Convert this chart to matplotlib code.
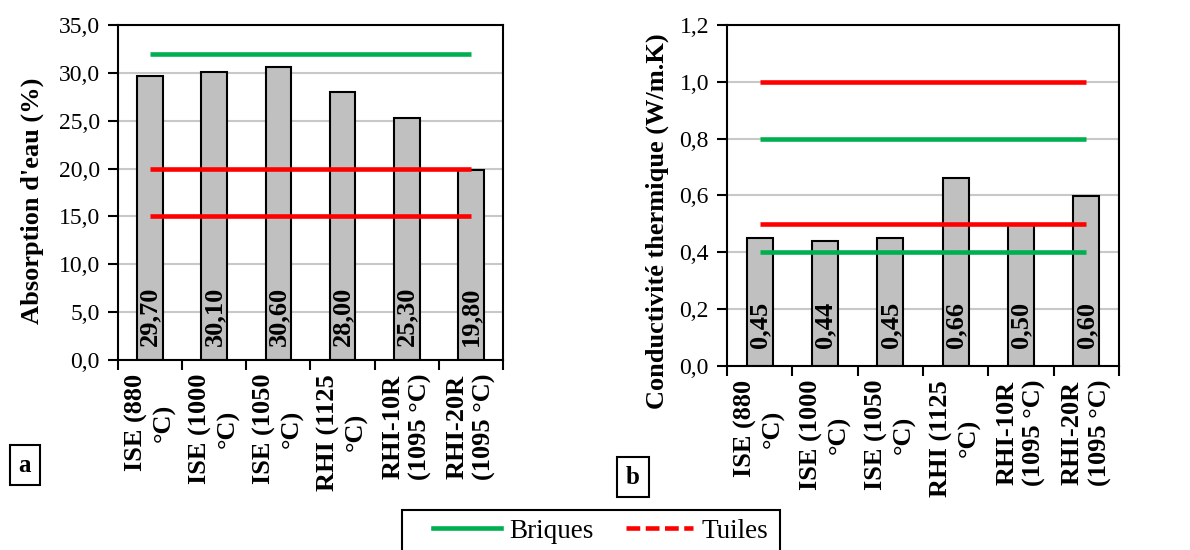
import numpy as np
import matplotlib
matplotlib.use("Agg")
import matplotlib.pyplot as plt
from matplotlib.ticker import FuncFormatter, MultipleLocator
from matplotlib.lines import Line2D
from matplotlib.patches import Rectangle

plt.rcParams['font.family'] = ['Liberation Serif', 'DejaVu Serif']

categories = ["ISE (880\n°C)", "ISE (1000\n°C)", "ISE (1050\n°C)",
              "RHI (1125\n°C)", "RHI-10R\n(1095 °C)", "RHI-20R\n(1095 °C)"]
absorption = [29.70, 30.10, 30.60, 28.00, 25.30, 19.80]
conductivite = [0.45, 0.44, 0.45, 0.66, 0.50, 0.60]

# reference limits (briques / tuiles)
abs_briques = [32.0]
abs_tuiles = [20.0, 15.0]
cond_briques = [0.8, 0.4]
cond_tuiles = [1.0, 0.5]

green = "#00B050"
red = "#FF0000"
grey = "#C0C0C0"

fig = plt.figure(figsize=(11.9, 5.5), dpi=100)
ax1 = fig.add_axes([118/1190, 1-360/550, 385/1190, 335/550])
ax2 = fig.add_axes([727/1190, 1-366/550, 392/1190, 341/550])


def comma(ndec):
    return FuncFormatter(lambda v, p: f"{v:.{ndec}f}".replace(".", ","))


def draw(ax, values, briques, tuiles, ymax, step, ylabel, lab_xy, off):
    x = np.arange(len(values))
    ax.bar(x, values, width=0.4, color=grey, edgecolor="black",
           linewidth=1.5, zorder=2)
    for y in briques:
        ax.hlines(y, x[0], x[-1], color=green, lw=3.3, zorder=3)
    for y in tuiles:
        ax.hlines(y, x[0], x[-1], color=red, lw=3.3, zorder=3)
    for xi, v in zip(x, values):
        ax.annotate(f"{v:.2f}".replace(".", ","), (xi, 0),
                    xytext=(0, off), textcoords="offset points",
                    rotation=90, ha="center", va="bottom",
                    fontsize=19, fontweight="bold", zorder=4)
    ax.set_xlim(-0.5, len(values) - 0.5)
    ax.set_ylim(0, ymax)
    ax.yaxis.set_major_locator(MultipleLocator(step))
    ax.yaxis.set_major_formatter(comma(1))
    ax.grid(axis="y", color="#C8C8C8", lw=1.5, zorder=0)
    ax.set_axisbelow(True)
    ax.set_xticks(np.arange(len(values) + 1) - 0.5)
    ax.set_xticklabels([])
    ax.set_xticks(x, minor=True)
    ax.set_xticklabels(categories, minor=True, rotation=90,
                       fontsize=19, fontweight="bold", linespacing=1.25)
    ax.tick_params(axis="x", which="major", direction="out", length=7,
                   width=1.5)
    ax.tick_params(axis="x", which="minor", length=0, pad=10)
    ax.tick_params(axis="y", direction="out", length=7, width=1.5,
                   labelsize=17, pad=6)
    for s in ax.spines.values():
        s.set_linewidth(1.5)
    ax.set_ylabel(ylabel, fontsize=19, fontweight="bold", va="center")
    ax.yaxis.set_label_coords(*lab_xy)


draw(ax1, absorption, abs_briques, abs_tuiles, 35, 5,
     "Absorption d'eau (%)", (-0.223, 0.475), 10)
draw(ax2, conductivite, cond_briques, cond_tuiles, 1.2, 0.2,
     "Conductivité thermique (W/m.K)", (-0.179, 0.425), 13)

box = dict(boxstyle="square,pad=0.35", fc="white", ec="black", lw=1.5)
fig.text(24.5/1190, 1-465/550, "a", fontsize=18, fontweight="bold",
         ha="center", va="center", bbox=box)
fig.text(633/1190, 1-477/550, "b", fontsize=18, fontweight="bold",
         ha="center", va="center", bbox=box)

# legend frame, open at the bottom edge of the figure
fig.patches.append(Rectangle((402/1190, 1-560/550), 378/1190, 50/550,
                             transform=fig.transFigure, fc="white",
                             ec="black", lw=1.5))
handles = [Line2D([], [], color=green, lw=3.3),
           Line2D([], [], color=red, lw=3.3, dashes=(3, 1.2))]
fig.legend(handles, ["Briques", "Tuiles"], loc="center left",
           bbox_to_anchor=(433/1190, 1-531/550), ncol=2,
           fontsize=19.5, frameon=False, handlelength=2.5,
           handletextpad=0.3, columnspacing=1.2, borderpad=0,
           borderaxespad=0)

fig.savefig("out.png", dpi=100)
